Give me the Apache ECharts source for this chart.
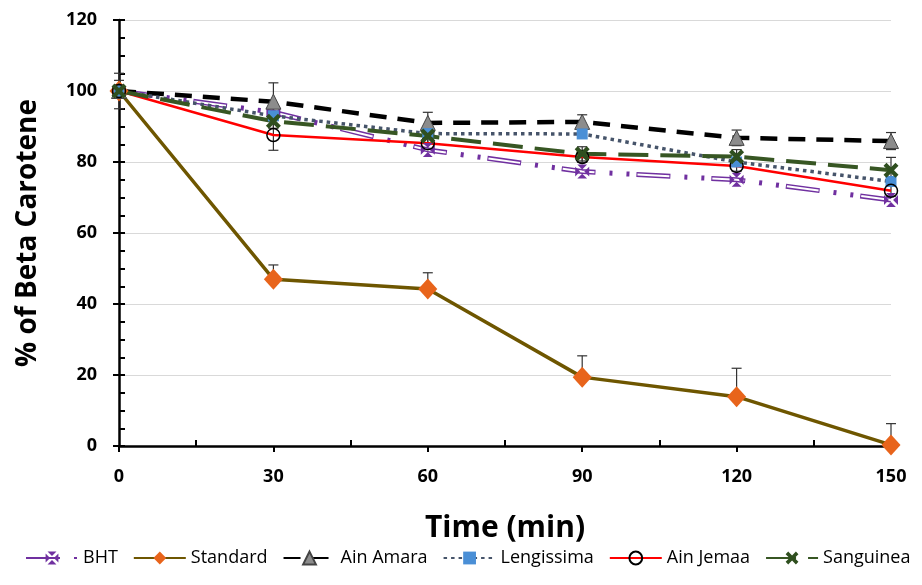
<!DOCTYPE html>
<html>
<head>
<meta charset="utf-8">
<script src="https://cdn.jsdelivr.net/npm/echarts@6/dist/echarts.min.js"></script>
<style>
  html, body { margin: 0; background: #fff; }
  #chart { width: 922px; height: 585px; }
</style>
</head>
<body>
<div id="chart"></div>
<script>
// time points (min) and % of beta carotene remaining
const times = [0, 30, 60, 90, 120, 150];
const yTicks = [0, 20, 40, 60, 80, 100, 120];
const bht = [100, 94, 83.4, 77.3, 75, 69.3];
const standard = [100, 47, 44.2, 19.4, 13.9, 0.3];
const ainAmara = [100, 97, 91, 91.3, 86.8, 85.9];
const lengissima = [100, 93, 88, 87.9, 80, 74.5];
const ainJemaa = [100, 87.6, 85.3, 81.4, 78.9, 71.9];
const sanguinea = [100, 91.5, 87.3, 82.3, 81.5, 77.7];

// error bars
const standardErr = [3, 4, 4.6, 6, 8, 6];
const ainAmaraErr = [5, 5.3, 3, 2, 2.2, 2.4];
const ainJemaaErr = [0, 4.3, 1.5, 1.5, 1.5, 1.5];
const sanguineaErr = [0, 2, 2, 2, 2, 3.6];

const FONT = 'Open Sans';

const pairs = (vals) => times.map((t, i) => [t, vals[i]]);

// purple square with a white X through it
const bhtSymbol = 'path://M1.5,0 L8.5,0 L5,3.5 Z M10,1.5 L10,8.5 L6.5,5 Z M1.5,10 L8.5,10 L5,6.5 Z M0,1.5 L0,8.5 L3.5,5 Z';
const crossSymbol = 'path://M0,2 L2,0 L5,3 L8,0 L10,2 L7,5 L10,8 L8,10 L5,7 L2,10 L0,8 L3,5 Z';

function errorSeries(name, values, errs, upOnly) {
  return {
    type: 'custom',
    name: name + ' err',
    z: 1,
    silent: true,
    clip: false,
    data: times.map((t, i) => [t, values[i], errs[i]]),
    encode: { x: 0, y: 1 },
    renderItem: (params, api) => {
      const x = api.value(0), y = api.value(1), e = api.value(2);
      if (!e) return null;
      const top = api.coord([x, y + e]);
      const bot = api.coord([x, upOnly ? y : y - e]);
      const style = { stroke: '#333', lineWidth: 1.2 };
      const children = [
        { type: 'line', shape: { x1: top[0], y1: top[1], x2: bot[0], y2: bot[1] }, style },
        { type: 'line', shape: { x1: top[0] - 5, y1: top[1], x2: top[0] + 5, y2: top[1] }, style }
      ];
      if (!upOnly) {
        children.push({ type: 'line', shape: { x1: bot[0] - 5, y1: bot[1], x2: bot[0] + 5, y2: bot[1] }, style });
      }
      return { type: 'group', children };
    }
  };
}

const chart = echarts.init(document.getElementById('chart'));

chart.setOption({
  animation: false,
  backgroundColor: '#fff',
  textStyle: { fontFamily: FONT },
  grid: { left: 119, right: 31, top: 20, bottom: 139 },
  legend: {
    data: ['BHT', 'Standard', 'Ain Amara', 'Lengissima', 'Ain Jemaa', 'Sanguinea'],
    left: 20,
    top: 544,
    itemWidth: 52,
    itemHeight: 16,
    itemGap: 15,
    textStyle: { fontFamily: FONT, fontSize: 18, color: '#000' }
  },
  xAxis: [{
    type: 'value',
    min: 0,
    max: 150,
    interval: 30,
    position: 'bottom',
    name: 'Time (min)',
    nameLocation: 'middle',
    nameGap: 67,
    nameTextStyle: { fontFamily: FONT, fontSize: 30, fontWeight: 'bold', color: '#000' },
    axisLine: { onZero: false, lineStyle: { color: '#000', width: 2.5 } },
    axisTick: { show: true, length: 6, lineStyle: { color: '#000', width: 2 } },
    axisLabel: { margin: 22, fontFamily: FONT, fontSize: 18, fontWeight: 'bold', color: '#000' },
    splitLine: { show: false }
  }, {
    type: 'value',
    min: 0,
    max: 150,
    interval: 30,
    position: 'bottom',
    axisLine: { show: false, onZero: false },
    axisTick: { show: false, inside: true },
    axisLabel: { show: false },
    minorTick: { show: true, splitNumber: 2, length: 6, lineStyle: { color: '#000', width: 2 } },
    splitLine: { show: false }
  }],
  yAxis: [{
    type: 'value',
    min: 0,
    max: 120,
    interval: 20,
    position: 'left',
    name: '% of Beta Carotene',
    nameLocation: 'middle',
    nameGap: 77,
    nameTextStyle: { fontFamily: FONT, fontSize: 28, fontWeight: 'bold', color: '#000' },
    axisLine: { show: true, onZero: false, lineStyle: { color: '#000', width: 2.5 } },
    axisTick: { show: true, length: 6, lineStyle: { color: '#000', width: 2 } },
    axisLabel: {
      margin: 22, fontFamily: FONT, fontSize: 18, fontWeight: 'bold', color: '#000',
      formatter: (v) => (yTicks.includes(v) ? String(v) : '')
    },
    splitLine: { show: true, lineStyle: { color: '#d9d9d9', width: 1 } }
  }, {
    type: 'value',
    min: 0,
    max: 120,
    interval: 20,
    position: 'left',
    axisLine: { show: false, onZero: false },
    axisTick: { show: true, inside: true, length: 6, lineStyle: { color: '#000', width: 2 } },
    axisLabel: { show: false },
    minorTick: { show: true, splitNumber: 4, length: 6, lineStyle: { color: '#000', width: 2 } },
    splitLine: { show: false }
  }],
  series: [
    errorSeries('Standard', standard, standardErr, true),
    errorSeries('Ain Amara', ainAmara, ainAmaraErr, false),
    errorSeries('Ain Jemaa', ainJemaa, ainJemaaErr, false),
    errorSeries('Sanguinea', sanguinea, sanguineaErr, false),
    {
      name: 'BHT',
      type: 'line',
      data: pairs(bht),
      symbol: bhtSymbol,
      symbolSize: 14,
      itemStyle: { color: '#7030a0' },
      lineStyle: { color: '#7030a0', width: 5, type: [34, 14, 3, 14, 3, 7] }
    },
    {
      name: 'BHT inner',
      type: 'line',
      data: pairs(bht),
      showSymbol: false,
      silent: true,
      lineStyle: { color: '#fff', width: 2, type: [32, 43], dashOffset: -1 }
    },
    {
      name: 'Standard',
      type: 'line',
      data: pairs(standard),
      symbol: 'diamond',
      symbolSize: [19, 21],
      itemStyle: { color: '#e8641b' },
      lineStyle: { color: '#6e5600', width: 3.5 }
    },
    {
      name: 'Ain Amara',
      type: 'line',
      data: pairs(ainAmara),
      symbol: 'triangle',
      symbolSize: 15,
      itemStyle: { color: '#8c8c8c', borderColor: '#444', borderWidth: 1 },
      lineStyle: { color: '#000', width: 4.5, type: [17, 11] }
    },
    {
      name: 'Lengissima',
      type: 'line',
      data: pairs(lengissima),
      symbol: 'rect',
      symbolSize: 11,
      itemStyle: { color: '#4a8fd6' },
      lineStyle: { color: '#46546a', width: 3.5, type: [3.5, 4] }
    },
    {
      name: 'Ain Jemaa',
      type: 'line',
      data: pairs(ainJemaa),
      symbol: 'circle',
      symbolSize: 13,
      itemStyle: { color: 'rgba(0,0,0,0)', borderColor: '#000', borderWidth: 1.5 },
      lineStyle: { color: '#ff0000', width: 2.5 }
    },
    {
      name: 'Sanguinea',
      type: 'line',
      data: pairs(sanguinea),
      symbol: crossSymbol,
      symbolSize: 15,
      itemStyle: { color: '#2f4f1f' },
      lineStyle: { color: '#375623', width: 4, type: [30, 12] }
    }
  ]
});
</script>
</body>
</html>
